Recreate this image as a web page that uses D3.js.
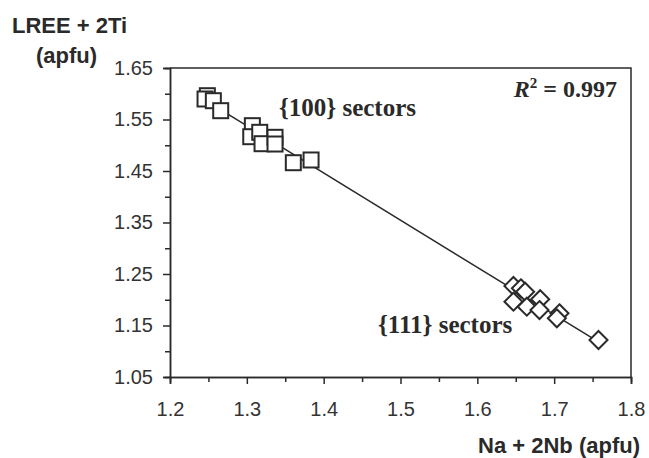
<!DOCTYPE html>
<html>
<head>
<meta charset="utf-8">
<script src="https://cdn.jsdelivr.net/npm/d3@7"></script>
<style>
  html, body { margin: 0; padding: 0; background: #ffffff; }
  svg { display: block; }
</style>
</head>
<body>
<svg id="chart" width="649" height="458"></svg>
<script>
// ---- data ----
const sectors100X = [1.2486, 1.2456, 1.2564, 1.2660, 1.3072, 1.3051, 1.3168, 1.3198, 1.3367, 1.3367, 1.3605, 1.3836];
const sectors100Y = [1.5962, 1.5898, 1.5865, 1.5671, 1.5380, 1.5166, 1.5251, 1.5030, 1.5154, 1.5024, 1.4661, 1.4714];
const sectors111X = [1.6470, 1.6567, 1.6622, 1.6470, 1.6644, 1.6818, 1.6809, 1.7069, 1.7035, 1.7577];
const sectors111Y = [1.2267, 1.2222, 1.2156, 1.1962, 1.1865, 1.2009, 1.1800, 1.1737, 1.1640, 1.1218];
const xTicks = [1.2, 1.3, 1.4, 1.5, 1.6, 1.7, 1.8];
const xMinorTicks = [1.25, 1.35, 1.45, 1.55, 1.65, 1.75];
const yTicks = [1.05, 1.15, 1.25, 1.35, 1.45, 1.55, 1.65];
const yMinorTicks = [1.10, 1.20, 1.30, 1.40, 1.50, 1.60];
const yTitle = ["LREE + 2Ti", "(apfu)"];
const xTitle = "Na + 2Nb (apfu)";
const label100 = "{100} sectors";
const label111 = "{111} sectors";
const r2Value = "0.997";

// ---- layout ----
const svg = d3.select("#chart");
const pLeft = 170, pRight = 631, pTop = 68, pBottom = 377;
const x = d3.scaleLinear().domain([1.2, 1.8]).range([pLeft, pRight]);
const y = d3.scaleLinear().domain([1.05, 1.65]).range([pBottom, pTop]);
const ink = "#2a2a2a";

svg.append("rect").attr("width", 649).attr("height", 458).attr("fill", "#ffffff");

// frame (top + right)
svg.append("path")
  .attr("d", `M${pLeft},${pTop}H${pRight}V${pBottom}`)
  .attr("fill", "none").attr("stroke", ink).attr("stroke-width", 1.5);

// axes
function styleAxis(g) {
  g.select(".domain").attr("stroke", ink).attr("stroke-width", 1.5);
  g.selectAll(".tick line").attr("stroke", ink).attr("stroke-width", 1.5);
  g.selectAll(".tick text").attr("fill", "#333")
    .attr("font-family", "Liberation Sans, Arial, sans-serif").attr("font-size", "20px");
}
const xAxis = svg.append("g").attr("transform", `translate(0,${pBottom})`)
  .call(d3.axisBottom(x).tickValues(xTicks).tickSize(7).tickPadding(18).tickFormat(d3.format(".1f")));
styleAxis(xAxis);
const xMinor = svg.append("g").attr("transform", `translate(0,${pBottom})`)
  .call(d3.axisBottom(x).tickValues(xMinorTicks).tickSize(5).tickFormat(""));
styleAxis(xMinor);
const yAxis = svg.append("g").attr("transform", `translate(${pLeft},0)`)
  .call(d3.axisLeft(y).tickValues(yTicks).tickSize(7).tickPadding(10).tickFormat(d3.format(".2f")));
styleAxis(yAxis);
const yMinor = svg.append("g").attr("transform", `translate(${pLeft},0)`)
  .call(d3.axisLeft(y).tickValues(yMinorTicks).tickSize(5).tickFormat(""));
styleAxis(yMinor);

// regression line
const allX = sectors100X.concat(sectors111X);
const allY = sectors100Y.concat(sectors111Y);
const n = allX.length;
const mx = d3.mean(allX), my = d3.mean(allY);
let sxy = 0, sxx = 0;
for (let i = 0; i < n; i++) { sxy += (allX[i]-mx)*(allY[i]-my); sxx += (allX[i]-mx)**2; }
const slope = sxy / sxx, icpt = my - slope * mx;
const x0 = d3.min(allX), x1 = d3.max(allX);
svg.append("line")
  .attr("x1", x(x0)).attr("y1", y(icpt + slope*x0))
  .attr("x2", x(x1)).attr("y2", y(icpt + slope*x1))
  .attr("stroke", ink).attr("stroke-width", 1.5);

// squares
const sq = 15;
svg.append("g").selectAll("rect").data(sectors100X.map((v, i) => [v, sectors100Y[i]]))
  .join("rect")
  .attr("x", d => x(d[0]) - sq/2).attr("y", d => y(d[1]) - sq/2)
  .attr("width", sq).attr("height", sq)
  .attr("fill", "#ffffff").attr("stroke", ink).attr("stroke-width", 2);

// diamonds
const r = 9;
svg.append("g").selectAll("path").data(sectors111X.map((v, i) => [v, sectors111Y[i]]))
  .join("path")
  .attr("d", d => { const cx = x(d[0]), cy = y(d[1]);
    return `M${cx},${cy-r}L${cx+r},${cy}L${cx},${cy+r}L${cx-r},${cy}Z`; })
  .attr("fill", "#ffffff").attr("stroke", ink).attr("stroke-width", 2);

// annotations
const serif = "Liberation Serif, Times New Roman, serif";
svg.append("text").attr("x", 279).attr("y", 116).text(label100)
  .attr("font-family", serif).attr("font-weight", "bold").attr("font-size", "25px").attr("fill", ink);
svg.append("text").attr("x", 378).attr("y", 333).text(label111)
  .attr("font-family", serif).attr("font-weight", "bold").attr("font-size", "25px").attr("fill", ink);
const r2 = svg.append("text").attr("x", 617).attr("y", 97).attr("text-anchor", "end")
  .attr("font-family", serif).attr("font-weight", "bold").attr("font-size", "24px").attr("fill", ink);
r2.append("tspan").attr("font-style", "italic").text("R");
r2.append("tspan").attr("font-size", "15px").attr("dy", "-9").text("2");
r2.append("tspan").attr("dy", "9").text(" = " + r2Value);

// axis titles
const sans = "Liberation Sans, Arial, sans-serif";
svg.append("text").attr("x", 12).attr("y", 33).text(yTitle[0])
  .attr("font-family", sans).attr("font-weight", "bold").attr("font-size", "22px").attr("fill", ink);
svg.append("text").attr("x", 36).attr("y", 63).text(yTitle[1])
  .attr("font-family", sans).attr("font-weight", "bold").attr("font-size", "22px").attr("fill", ink);
svg.append("text").attr("x", 640).attr("y", 453).attr("text-anchor", "end").text(xTitle)
  .attr("font-family", sans).attr("font-weight", "bold").attr("font-size", "22px").attr("fill", ink);
</script>
</body>
</html>
